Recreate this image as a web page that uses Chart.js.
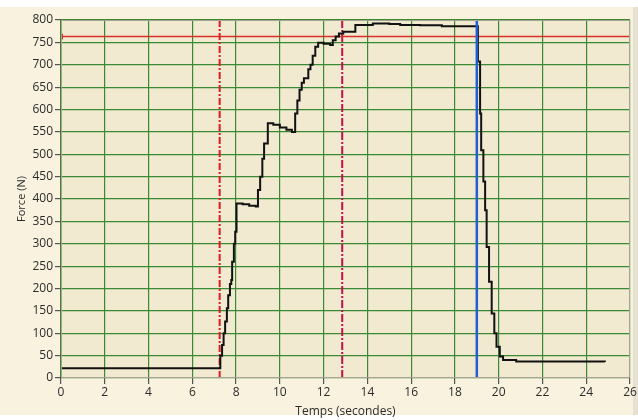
<!DOCTYPE html>
<html>
<head>
<meta charset="utf-8">
<script src="https://cdn.jsdelivr.net/npm/chart.js@4/dist/chart.umd.min.js"></script>
<style>
  html, body { margin: 0; padding: 0; background: #ffffff; }
  #wrap { width: 638px; height: 420px; }
</style>
</head>
<body>
<div id="wrap"><canvas id="forceChart" width="638" height="420"></canvas></div>
<script>
// force curve (stepped, value holds until next time)
const timeS = [0, 7.28, 7.36, 7.43, 7.5, 7.58, 7.64, 7.72, 7.78, 7.82, 7.9, 7.96, 8.02, 8.3, 8.6, 8.9,
  9.0, 9.1, 9.2, 9.28, 9.45, 9.7, 10.0, 10.3, 10.55, 10.7, 10.8, 10.9, 11.0, 11.1, 11.3, 11.4, 11.5,
  11.62, 11.75, 12.0, 12.3, 12.42, 12.55, 12.7, 12.9, 13.45, 14.25, 15.0, 15.5, 16.4, 17.4,
  19.05, 19.15, 19.2, 19.3, 19.38, 19.45, 19.56, 19.68, 19.8, 19.9, 20.05, 20.2, 20.8, 24.85];
const forceN = [22, 50, 74, 100, 126, 156, 185, 210, 219, 260, 300, 327, 390, 388, 385, 383,
  420, 450, 490, 524, 569, 566, 560, 555, 550, 591, 620, 644, 660, 670, 690, 700, 720,
  740, 749, 747, 744, 755, 763, 770, 774, 789, 792, 791, 789, 788, 786,
  707, 591, 509, 439, 375, 293, 215, 144, 100, 70, 48, 40, 37, 36];

const xTicks = [0, 2, 4, 6, 8, 10, 12, 14, 16, 18, 20, 22, 24, 26];
const yTicks = [0, 50, 100, 150, 200, 250, 300, 350, 400, 450, 500, 550, 600, 650, 700, 750, 800];

// cursors
const startCursor = 7.25;
const holdCursor = 12.85;
const releaseCursor = 19.0;
const forceLimit = 763;

const xMin = 0, xMax = 26, yMin = 0, yMax = 800;

const curve = timeS.map((t, i) => ({ x: t, y: forceN[i] }));
const vLine = (x) => [{ x: x, y: yMin }, { x: x, y: yMax }];

const bgPlugin = {
  id: "panel",
  beforeDraw(chart) {
    const { ctx, chartArea: a } = chart;
    ctx.save();
    ctx.fillStyle = "#ffffff";
    ctx.fillRect(0, 0, chart.width, chart.height);
    ctx.fillStyle = "#f8f2df";
    ctx.fillRect(0, 7, 633, 408);
    ctx.fillStyle = "#e6e1d2";
    ctx.fillRect(633, 7, 5, 408);
    ctx.fillStyle = "#f2e9d1";
    ctx.fillRect(a.left, a.top, a.right - a.left, a.bottom - a.top);
    ctx.restore();
  },
  afterDraw(chart) {
    const { ctx, chartArea: a } = chart;
    ctx.save();
    ctx.strokeStyle = "#a8a291";
    ctx.lineWidth = 1;
    ctx.strokeRect(a.left + 0.5, a.top + 0.5, a.right - a.left - 1, a.bottom - a.top - 1);
    ctx.restore();
  }
};

const ctx = document.getElementById("forceChart");

new Chart(ctx, {
  type: "line",
  data: {
    datasets: [
      {
        label: "release",
        data: vLine(releaseCursor),
        borderColor: "#1f5fd6",
        borderWidth: 2.5,
        pointRadius: 0,
        order: 0,
      },
      {
        label: "Force",
        data: curve,
        borderColor: "#111111",
        borderWidth: 2,
        stepped: "before",
        pointRadius: 0,
        order: 1,
      },
      {
        label: "limit",
        data: [{ x: xMin, y: forceLimit }, { x: xMax, y: forceLimit }],
        borderColor: "#d8302a",
        borderWidth: 1.5,
        pointRadius: [3, 0],
        pointStyle: "triangle",
        rotation: -90,
        pointBorderColor: "#d8302a",
        pointBackgroundColor: "rgba(0,0,0,0)",
        pointBorderWidth: 1,
        order: 2,
      },
      {
        label: "start",
        data: vLine(startCursor),
        borderColor: "#e0191e",
        borderWidth: 2,
        borderDash: [7, 2, 2, 2],
        pointRadius: 0,
        order: 2,
      },
      {
        label: "hold",
        data: vLine(holdCursor),
        borderColor: "#c3124a",
        borderWidth: 2,
        borderDash: [8, 2, 2, 2],
        pointRadius: 0,
        order: 2,
      },
    ],
  },
  options: {
    responsive: false,
    animation: false,
    layout: { padding: { top: 20, right: 8, left: 0, bottom: 0 } },
    plugins: {
      legend: { display: false },
      tooltip: { enabled: false },
    },
    scales: {
      x: {
        type: "linear",
        min: xMin,
        max: xMax,
        afterBuildTicks: (axis) => { axis.ticks = xTicks.map((v) => ({ value: v })); },
        afterFit: (axis) => { axis.height = 42; },
        grid: {
          color: "#3a8a34",
          lineWidth: 1.2,
          tickColor: "#555555",
          tickLength: 6,
        },
        border: { display: false },
        ticks: {
          color: "#2b2b2b",
          padding: 1,
          maxRotation: 0,
          font: { family: "Open Sans", size: 12 },
        },
        title: {
          display: true,
          text: "Temps (secondes)",
          color: "#2b2b2b",
          padding: { top: 0, bottom: 1 },
          font: { family: "Open Sans", size: 12 },
        },
      },
      y: {
        type: "linear",
        min: yMin,
        max: yMax,
        afterBuildTicks: (axis) => { axis.ticks = yTicks.map((v) => ({ value: v })); },
        afterFit: (axis) => { axis.width = 61; },
        grid: {
          color: "#3a8a34",
          lineWidth: 1.2,
          tickColor: "#555555",
          tickLength: 6,
        },
        border: { display: false },
        ticks: {
          color: "#2b2b2b",
          padding: 2,
          font: { family: "Open Sans", size: 12 },
        },
        title: {
          display: true,
          text: "Force (N)",
          color: "#2b2b2b",
          padding: { top: 15, bottom: 2 },
          font: { family: "Open Sans", size: 11 },
        },
      },
    },
  },
  plugins: [bgPlugin],
});
</script>
</body>
</html>
